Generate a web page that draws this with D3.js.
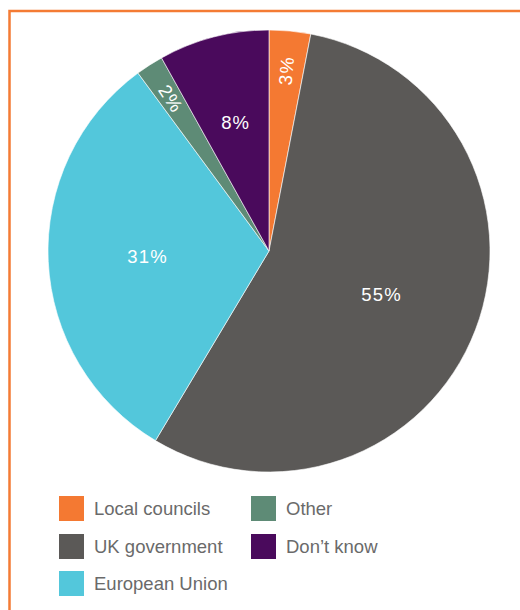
<!DOCTYPE html>
<html>
<head>
<meta charset="utf-8">
<script src="https://cdn.jsdelivr.net/npm/d3@7"></script>
<style>
  html, body { margin: 0; padding: 0; background: #fff; }
  svg { display: block; }
</style>
</head>
<body>
<svg id="chart" width="520" height="610"></svg>
<script>
// Who should be responsible — survey shares (%)
const categories = ["Local councils", "UK government", "European Union", "Other", "Don’t know"];
const values = [3, 55, 31, 2, 8];
const colors = ["#f47932", "#5b5957", "#53c7db", "#5e8b76", "#4a0a5c"];
const labels = ["3%", "55%", "31%", "2%", "8%"];
// which slices carry a radial (rotated) label
const rotatedLabel = [true, false, false, true, false];
// label distance from the centre, as a fraction of the radius
const labelRadius = [0.82, 0.545, 0.55, 0.82, 0.6];

const svg = d3.select("#chart");

// orange frame (top and left edges)
svg.append("path")
  .attr("d", "M9.5,615 L9.5,11 L525,11")
  .attr("fill", "none")
  .attr("stroke", "#f47b34")
  .attr("stroke-width", 2.5);

const cx = 269, cy = 251, r = 221;

const pie = d3.pie().sort(null).value(d => d.value);
const data = categories.map((c, i) => ({
  name: c, value: values[i], color: colors[i], label: labels[i],
  rot: rotatedLabel[i], lr: labelRadius[i]
}));
const arcs = pie(data);

const arc = d3.arc().innerRadius(0).outerRadius(r);
const g = svg.append("g").attr("transform", `translate(${cx},${cy})`);

g.selectAll("path.slice")
  .data(arcs)
  .join("path")
  .attr("class", "slice")
  .attr("d", arc)
  .attr("fill", d => d.data.color)
  .attr("stroke", "#fff")
  .attr("stroke-width", 0.6);

g.selectAll("text.val")
  .data(arcs)
  .join("text")
  .attr("class", "val")
  .attr("transform", d => {
    const mid = (d.startAngle + d.endAngle) / 2;
    const lr = d.data.lr * r;
    const [x, y] = d3.arc().innerRadius(lr).outerRadius(lr).centroid(d);
    if (d.data.rot) {
      let deg = mid * 180 / Math.PI - 90;
      if (deg > 90) deg -= 180;
      if (deg < -90) deg += 180;
      return `translate(${x},${y}) rotate(${deg})`;
    }
    return `translate(${x},${y})`;
  })
  .attr("text-anchor", "middle")
  .attr("dy", "0.36em")
  .attr("fill", "#fff")
  .attr("font-family", "'Liberation Sans', Arial, Helvetica, sans-serif")
  .attr("font-size", 18.5)
  .attr("letter-spacing", 1.2)
  .text(d => d.data.label);

// legend: two columns
const legendPos = [
  [59, 496], [59, 534], [59, 571],
  [251, 496], [251, 534]
];
const lg = svg.append("g");
const items = lg.selectAll("g.item")
  .data(data)
  .join("g")
  .attr("class", "item")
  .attr("transform", (d, i) => `translate(${legendPos[i][0]},${legendPos[i][1]})`);
items.append("rect")
  .attr("width", 25).attr("height", 25)
  .attr("fill", d => d.color);
items.append("text")
  .attr("x", 35).attr("y", 18.5)
  .attr("fill", "#6a6a6a")
  .attr("font-family", "'Liberation Sans', Arial, Helvetica, sans-serif")
  .attr("font-size", 18.5)
  .text(d => d.name);
</script>
</body>
</html>
